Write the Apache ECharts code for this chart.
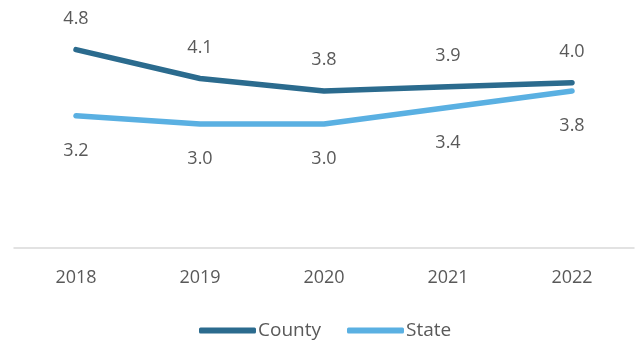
<!DOCTYPE html>
<html>
<head>
<meta charset="utf-8">
<script src="https://cdn.jsdelivr.net/npm/echarts@6/dist/echarts.min.js"></script>
<style>
  html, body { margin: 0; padding: 0; background: #ffffff; }
  #chart { width: 638px; height: 345px; }
</style>
</head>
<body>
<div id="chart"></div>
<script>
// Years along the horizontal axis
var years = ['2018', '2019', '2020', '2021', '2022'];
// Rates for each series
var countyValues = [4.8, 4.1, 3.8, 3.9, 4.0];
var stateValues = [3.2, 3.0, 3.0, 3.4, 3.8];

var textColor = '#595959';
var fontFamily = '"Open Sans", "Noto Sans", sans-serif';

function oneDecimal(p) { return p.value.toFixed(1); }

var chart = echarts.init(document.getElementById('chart'));
chart.setOption({
  animation: false,
  backgroundColor: '#ffffff',
  textStyle: { fontFamily: fontFamily },
  grid: { left: 14, right: 4, top: -4, bottom: 97, containLabel: false },
  legend: {
    data: ['County', 'State'],
    left: 194,
    top: 316,
    itemWidth: 57,
    itemHeight: 6,
    itemGap: 26,
    icon: 'roundRect',
    textStyle: { color: textColor, fontSize: 19, fontFamily: fontFamily, padding: [0, 0, 0, -3] }
  },
  xAxis: {
    type: 'category',
    data: years,
    boundaryGap: true,
    axisLine: { show: true, lineStyle: { color: '#d9d9d9', width: 1.5 } },
    axisTick: { show: false },
    axisLabel: { color: textColor, fontSize: 18, margin: 21, fontFamily: fontFamily }
  },
  yAxis: {
    type: 'value',
    min: 0,
    max: 6,
    interval: 1,
    show: false,
    splitLine: { show: false }
  },
  series: [
    {
      name: 'County',
      type: 'line',
      data: countyValues,
      symbol: 'circle',
      symbolSize: 0,
      lineStyle: { color: '#2b6b8e', width: 5.5, cap: 'round', join: 'round' },
      itemStyle: { color: '#2b6b8e' },
      label: {
        show: true,
        position: 'top',
        distance: 22,
        color: textColor,
        fontSize: 18,
        fontFamily: fontFamily,
        formatter: oneDecimal
      }
    },
    {
      name: 'State',
      type: 'line',
      data: stateValues,
      symbol: 'circle',
      symbolSize: 0,
      lineStyle: { color: '#5ab0e2', width: 5.5, cap: 'round', join: 'round' },
      itemStyle: { color: '#5ab0e2' },
      label: {
        show: true,
        position: 'bottom',
        distance: 26,
        color: textColor,
        fontSize: 18,
        fontFamily: fontFamily,
        formatter: oneDecimal
      }
    }
  ]
});
</script>
</body>
</html>
